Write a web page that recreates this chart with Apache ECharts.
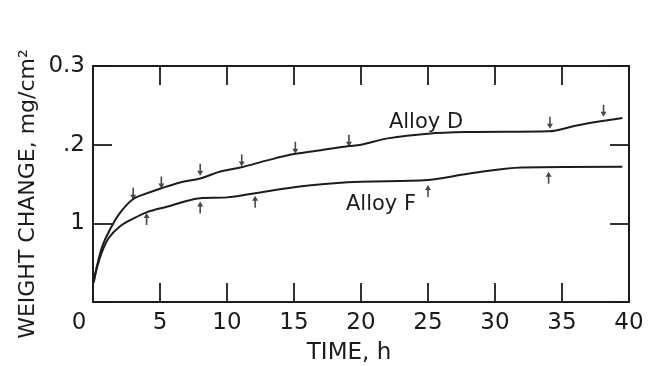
<!DOCTYPE html>
<html><head><meta charset="utf-8">
<script src="https://cdn.jsdelivr.net/npm/echarts@6/dist/echarts.min.js"></script>
<style>html,body{margin:0;padding:0;background:#fff}#c{width:651px;height:366px}</style>
</head><body><div id="c"></div>
<script>
// ---- data ----
const xTickValues = [0, 5, 10, 15, 20, 25, 30, 35, 40];
const yTickValues = [0, 0.1, 0.2, 0.3];
const yTickLabels = ['', '1', '.2', '0.3'];

const alloyDTime   = [0.05, 0.3, 0.7, 1.2, 2.0, 3.0, 4.0, 5.0, 6.5, 8.0, 9.5, 11.0, 13.0, 15.0, 17.0, 19.0, 20.0, 22.0, 25.0, 28.0, 34.0, 36.0, 38.0, 39.5];
const alloyDWeight = [0.025, 0.046, 0.071, 0.090, 0.113, 0.131, 0.138, 0.144, 0.152, 0.157, 0.166, 0.171, 0.180, 0.188, 0.193, 0.198, 0.200, 0.208, 0.214, 0.216, 0.217, 0.224, 0.230, 0.234];

const alloyFTime   = [0.05, 0.3, 0.7, 1.2, 2.0, 3.0, 4.0, 5.5, 8.0, 10.0, 12.0, 15.0, 18.0, 20.0, 25.0, 28.0, 32.0, 39.5];
const alloyFWeight = [0.025, 0.044, 0.065, 0.082, 0.096, 0.106, 0.114, 0.121, 0.132, 0.133, 0.138, 0.146, 0.151, 0.153, 0.155, 0.163, 0.171, 0.172];

const arrowDTime   = [3.0, 5.1, 8.0, 11.1, 15.1, 19.1, 34.1, 38.1];
const arrowDWeight = [0.1375, 0.152, 0.168, 0.180, 0.196, 0.205, 0.228, 0.243];
const arrowFTime   = [4.0, 8.0, 12.1, 25.0, 34.0];
const arrowFWeight = [0.1055, 0.120, 0.1275, 0.141, 0.158];

const seriesNames = ['Alloy D', 'Alloy F'];
const xTitle = 'TIME, h';
const yTitle = 'WEIGHT CHANGE, mg/cm²';

// ---- chart ----
const INK = '#1c1c1c';
const FONT = '"DejaVu Sans", Verdana, sans-serif';
const zip = (a, b) => a.map((v, i) => [v, b[i]]);
const arrowPath = 'path://M2.2,0 L3.8,0 L3.8,7 L6,7 L3,12 L0,7 L2.2,7 Z';

const chart = echarts.init(document.getElementById('c'), null, {renderer: 'canvas'});
const axisCommon = {
  type: 'value',
  axisLine: {show: true, onZero: false, lineStyle: {color: INK, width: 2}},
  axisTick: {show: true, inside: true, length: 19, lineStyle: {color: INK, width: 1.8}},
  splitLine: {show: false}
};
chart.setOption({
  backgroundColor: '#ffffff',
  animation: false,
  grid: {left: 93, right: 22, top: 66, bottom: 64, containLabel: false},
  xAxis: [
    Object.assign({}, axisCommon, {
      position: 'bottom', min: xTickValues[0], max: xTickValues[xTickValues.length - 1], interval: 5,
      axisLabel: {
        show: true, margin: 10, color: INK, fontSize: 23, fontFamily: FONT,
        formatter: v => v === 0 ? '{z|0}' : String(v),
        rich: {z: {fontSize: 23, fontFamily: FONT, color: INK, padding: [0, 28, 0, 0]}}
      }
    }),
    Object.assign({}, axisCommon, {
      position: 'top', min: 0, max: 40, interval: 5, axisLabel: {show: false}
    })
  ],
  yAxis: [
    Object.assign({}, axisCommon, {
      position: 'left', min: 0, max: 0.3, interval: 0.1,
      axisLabel: {
        show: true, margin: 8, color: INK, fontSize: 23, fontFamily: FONT, padding: [6, 0, 0, 0],
        formatter: v => { const i = yTickValues.findIndex(t => Math.abs(t - v) < 1e-9); return i >= 0 ? yTickLabels[i] : ''; }
      }
    }),
    Object.assign({}, axisCommon, {
      position: 'right', min: 0, max: 0.3, interval: 0.1, axisLabel: {show: false}
    })
  ],
  series: [
    {name: seriesNames[0], type: 'line', data: zip(alloyDTime, alloyDWeight), smooth: 0.35,
     showSymbol: false, lineStyle: {color: INK, width: 2}},
    {name: seriesNames[1], type: 'line', data: zip(alloyFTime, alloyFWeight), smooth: 0.35,
     showSymbol: false, lineStyle: {color: INK, width: 2}},
    {type: 'scatter', data: zip(arrowDTime, arrowDWeight), symbol: arrowPath, symbolSize: [6, 12],
     itemStyle: {color: INK}},
    {type: 'scatter', data: zip(arrowFTime, arrowFWeight), symbol: arrowPath, symbolSize: [6, 12],
     symbolRotate: 180, itemStyle: {color: INK}}
  ],
  graphic: [
    {type: 'text', x: 426, y: 123, style: {text: seriesNames[0], fill: INK, font: '21px ' + FONT, textAlign: 'center', textVerticalAlign: 'middle'}},
    {type: 'text', x: 381, y: 205, style: {text: seriesNames[1], fill: INK, font: '21px ' + FONT, textAlign: 'center', textVerticalAlign: 'middle'}},
    {type: 'text', x: 349, y: 353, style: {text: xTitle, fill: INK, font: '23px ' + FONT, textAlign: 'center', textVerticalAlign: 'middle'}},
    {type: 'text', x: 28, y: 194, rotation: Math.PI / 2, style: {text: yTitle, fill: INK, font: '22px ' + FONT, textAlign: 'center', textVerticalAlign: 'middle'}}
  ]
});
</script>
</body></html>
